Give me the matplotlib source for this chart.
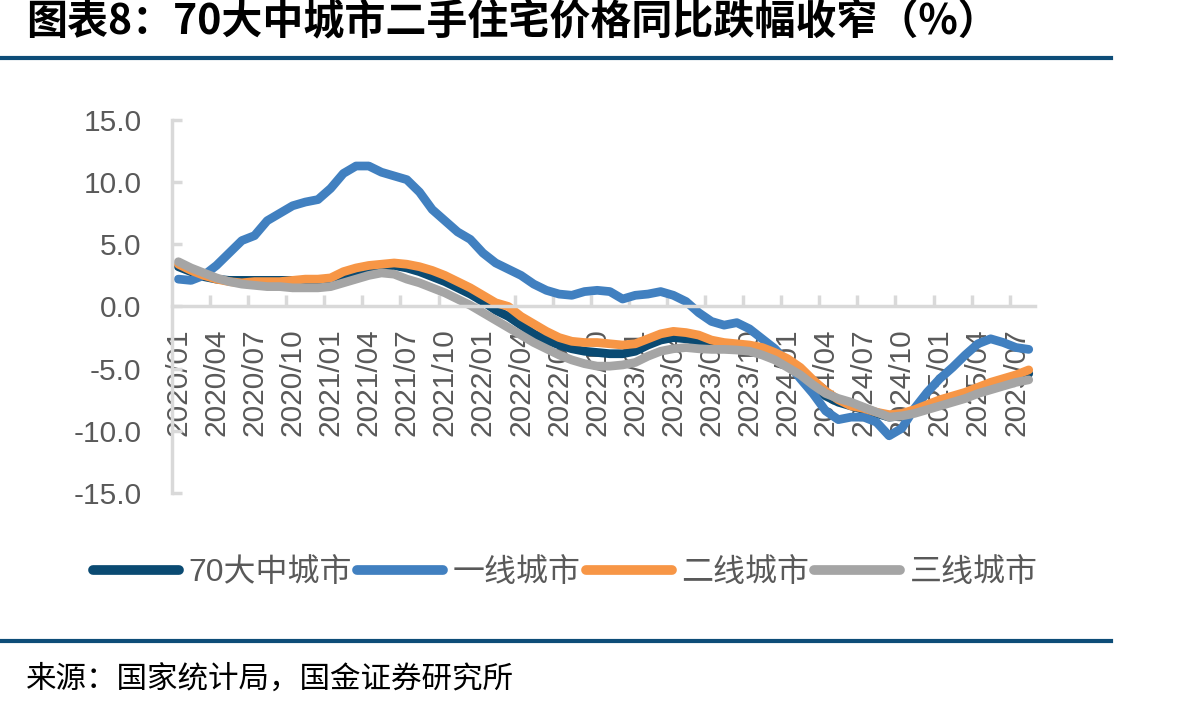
import matplotlib
matplotlib.use("Agg")
import matplotlib.pyplot as plt
import numpy as np

plt.rcParams['font.family'] = ['Liberation Sans', 'Noto Sans CJK SC', 'DejaVu Sans']

# monthly, 2020/01 .. 2025/08
months = [f"{y}/{m:02d}" for y in range(2020, 2026) for m in range(1, 13)][:68]

city70 = [3.2, 2.8, 2.4, 2.2, 2.1, 2.1, 2.1, 2.1, 2.1, 2.1, 2.1, 2.0,
          2.1, 2.5, 2.8, 3.0, 3.2, 3.3, 3.1, 2.8, 2.4, 2.0, 1.5, 1.0,
          0.4, -0.3, -0.8, -1.5, -2.2, -2.7, -3.1, -3.4, -3.6, -3.7, -3.8, -3.8,
          -3.6, -3.1, -2.7, -2.5, -2.6, -2.8, -3.0, -3.1, -3.2, -3.3, -3.5, -3.9,
          -4.6, -5.4, -6.3, -7.2, -7.7, -8.0, -8.3, -8.6, -8.9, -8.8, -8.5, -8.1,
          -7.7, -7.4, -7.1, -6.7, -6.3, -6.0, -5.7, -5.4]
tier1 = [2.2, 2.1, 2.5, 3.3, 4.3, 5.3, 5.7, 6.9, 7.5, 8.1, 8.4, 8.6,
         9.5, 10.7, 11.3, 11.3, 10.8, 10.5, 10.2, 9.2, 7.8, 6.9, 6.0, 5.4,
         4.3, 3.5, 3.0, 2.5, 1.8, 1.3, 1.0, 0.9, 1.2, 1.3, 1.2, 0.6,
         0.9, 1.0, 1.2, 0.9, 0.4, -0.5, -1.2, -1.5, -1.3, -1.8, -2.6, -3.4,
         -4.5, -5.8, -7.0, -8.4, -9.1, -8.9, -8.9, -9.3, -10.4, -9.8, -8.2, -6.9,
         -5.8, -4.9, -3.9, -3.0, -2.6, -2.9, -3.3, -3.45]
tier2 = [3.4, 2.9, 2.5, 2.2, 2.0, 1.9, 2.0, 2.0, 2.0, 2.1, 2.2, 2.2,
         2.3, 2.8, 3.1, 3.3, 3.4, 3.5, 3.4, 3.2, 2.9, 2.5, 2.0, 1.5,
         0.9, 0.3, 0.0, -0.8, -1.4, -2.0, -2.5, -2.8, -2.9, -2.9, -3.0, -3.1,
         -3.0, -2.6, -2.2, -2.0, -2.1, -2.3, -2.7, -2.9, -3.0, -3.1, -3.3, -3.7,
         -4.2, -4.9, -5.9, -6.8, -7.5, -8.0, -8.2, -8.5, -8.7, -8.6, -8.3, -7.9,
         -7.5, -7.2, -6.9, -6.5, -6.1, -5.8, -5.5, -5.1]
tier3 = [3.6, 3.1, 2.7, 2.3, 2.0, 1.8, 1.7, 1.6, 1.6, 1.5, 1.5, 1.5,
         1.6, 1.9, 2.2, 2.5, 2.7, 2.6, 2.2, 1.9, 1.5, 1.1, 0.6, 0.1,
         -0.5, -1.1, -1.7, -2.3, -2.9, -3.4, -3.9, -4.3, -4.6, -4.8, -4.8, -4.7,
         -4.5, -4.0, -3.6, -3.4, -3.3, -3.4, -3.45, -3.45, -3.5, -3.6, -3.9, -4.3,
         -4.9, -5.5, -6.3, -7.0, -7.4, -7.7, -8.1, -8.5, -8.9, -8.8, -8.6, -8.3,
         -8.0, -7.7, -7.4, -7.0, -6.7, -6.4, -6.1, -5.9]

names = ["70大中城市", "一线城市", "二线城市", "三线城市"]
colors = ["#0A4A72", "#4180C0", "#F79646", "#A5A5A5"]
grey_txt = "#595959"
axis_grey = "#D9D9D9"
navy_rule = "#0D4D78"

fig = plt.figure(figsize=(11.98, 7.08), dpi=100)
ax = fig.add_axes([0.1436, 0.3037, 0.7204, 0.5268])

x = np.arange(len(months))
for vals, name, c in zip([city70, tier1, tier2, tier3], names, colors):
    ax.plot(x, vals, color=c, lw=6.3, label=name, solid_joinstyle='round', solid_capstyle='round')

ax.set_xlim(-0.5, len(months) - 0.5)
ax.set_ylim(-15, 15)
ax.set_yticks(np.arange(-15, 16, 5))
ax.set_yticklabels([f"{v:.1f}" for v in np.arange(-15, 16, 5)], fontsize=21.5, color=grey_txt)

for s in ['top', 'right']:
    ax.spines[s].set_visible(False)
ax.spines['bottom'].set_position(('data', 0))
for s in ['left', 'bottom']:
    ax.spines[s].set_color(axis_grey)
    ax.spines[s].set_linewidth(2.5)

ax.set_xticks(x[::3])
ax.set_xticklabels(months[::3], rotation=90, fontsize=21.5, color=grey_txt)
ax.set_xticks(np.arange(2.5, len(months) - 1, 3), minor=True)
ax.tick_params(axis='x', which='major', length=0, pad=16)
ax.tick_params(axis='x', which='minor', direction='in', length=8, width=2.5, color=axis_grey)
ax.tick_params(axis='y', direction='in', length=7, width=2.5, color=axis_grey, pad=22)

leg = fig.legend(loc='center', bbox_to_anchor=(0.472, 0.19), ncol=4, frameon=False,
                 fontsize=23, handlelength=2.7, handletextpad=0.3, columnspacing=0.15,
                 labelcolor=grey_txt)
for h in leg.legend_handles:
    h.set_linewidth(7)

fig.text(0.022, 0.968, "图表8：70大中城市二手住宅价格同比跌幅收窄（%）", fontsize=29.5,
         fontweight='bold', va='center', ha='left', color='black',
         family=['Noto Sans CJK SC', 'DejaVu Sans'])
fig.add_artist(plt.Line2D([0, 0.927], [0.918, 0.918], color=navy_rule, lw=3))
fig.add_artist(plt.Line2D([0, 0.927], [0.094, 0.094], color=navy_rule, lw=3))
fig.text(0.022, 0.04, "来源：国家统计局，国金证券研究所", fontsize=22, va='center', ha='left',
         color='black', family=['Noto Sans CJK SC', 'DejaVu Sans'])

fig.savefig("out.png", dpi=100)
